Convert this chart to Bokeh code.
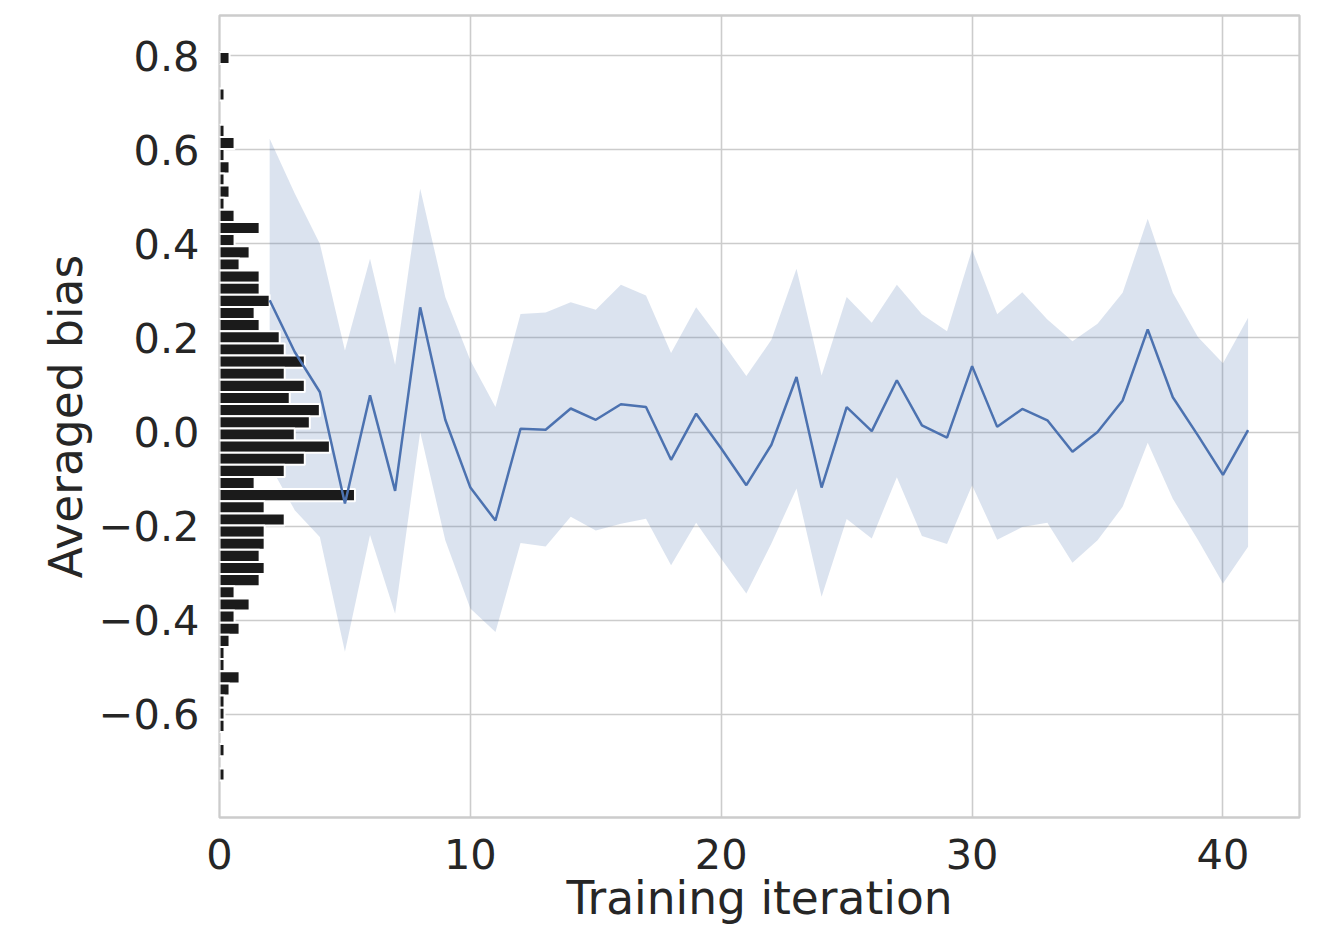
import numpy as np
from bokeh.plotting import figure
from bokeh.models import ColumnDataSource, Range1d, FixedTicker, CustomJSTickFormatter
from bokeh.embed import file_html
from bokeh.resources import INLINE

# Mean bias per training iteration with its spread band
iterations = list(range(2, 42))
mean_bias = [0.280, 0.170, 0.085, -0.152, 0.078, -0.125, 0.265, 0.026, -0.118, -0.188,
             0.007, 0.005, 0.050, 0.026, 0.059, 0.053, -0.059, 0.039, -0.035, -0.113,
             -0.027, 0.117, -0.118, 0.053, 0.002, 0.110, 0.014, -0.012, 0.140, 0.011,
             0.049, 0.025, -0.042, 0.000, 0.067, 0.218, 0.074, -0.007, -0.091, 0.004]
band_upper = [0.623, 0.507, 0.400, 0.173, 0.368, 0.143, 0.517, 0.287, 0.152, 0.053,
              0.251, 0.254, 0.276, 0.260, 0.313, 0.290, 0.168, 0.265, 0.194, 0.119,
              0.196, 0.347, 0.120, 0.287, 0.232, 0.313, 0.250, 0.214, 0.388, 0.250,
              0.297, 0.239, 0.193, 0.230, 0.296, 0.453, 0.296, 0.202, 0.146, 0.243]
band_lower = [-0.070, -0.166, -0.223, -0.467, -0.219, -0.386, 0.000, -0.230, -0.375, -0.425,
              -0.236, -0.243, -0.180, -0.209, -0.195, -0.184, -0.283, -0.193, -0.269, -0.343,
              -0.237, -0.120, -0.350, -0.185, -0.226, -0.096, -0.221, -0.238, -0.113, -0.229,
              -0.202, -0.193, -0.278, -0.230, -0.159, -0.023, -0.142, -0.229, -0.322, -0.244]

# Histogram of bias values (60 bins, top to bottom), bar lengths along x
hist_range = (-0.7405, 0.8075)
hist_length = [0.4, 0, 0, 0.2, 0, 0, 0.2, 0.6, 0.2, 0.4,
               0.2, 0.4, 0.2, 0.6, 1.6, 0.6, 1.2, 0.8, 1.6, 1.6,
               2.0, 1.4, 1.6, 2.4, 2.6, 3.4, 2.6, 3.4, 2.8, 4.0,
               3.6, 3.0, 4.4, 3.4, 2.6, 1.4, 5.4, 1.8, 2.6, 1.8,
               1.8, 1.6, 1.8, 1.6, 0.6, 1.2, 0.6, 0.8, 0.4, 0.2,
               0.2, 0.8, 0.4, 0.2, 0.2, 0.2, 0, 0.2, 0, 0.2]

x_ticks = [0, 10, 20, 30, 40]
y_ticks = [-0.6, -0.4, -0.2, 0.0, 0.2, 0.4, 0.6, 0.8]
x_title = "Training iteration"
y_title = "Averaged bias"

edges = np.linspace(hist_range[1], hist_range[0], len(hist_length) + 1)
centers = (edges[:-1] + edges[1:]) / 2
bin_h = abs(edges[1] - edges[0])
lengths = np.array(hist_length)
keep = lengths > 0
hist_src = ColumnDataSource(dict(y=centers[keep], right=lengths[keep]))

line_src = ColumnDataSource(dict(x=iterations, y=mean_bias, lo=band_lower, hi=band_upper))

FONT = "DejaVu Sans"
TEXT = "#262626"
GRID = "#cccccc"
BLUE = "#4c72b0"

p = figure(width=1318, height=928,
           x_range=Range1d(0, 43.05), y_range=Range1d(-0.819, 0.885),
           output_backend="svg", toolbar_location=None,
           min_border_left=219, min_border_right=19,
           min_border_top=15, min_border_bottom=111)

p.background_fill_color = "white"
p.border_fill_color = "white"
p.outline_line_color = GRID
p.outline_line_width = 2.3

p.varea(x="x", y1="lo", y2="hi", source=line_src, fill_color=BLUE, fill_alpha=0.2)
p.hbar(y="y", left=0, right="right", height=bin_h, source=hist_src,
       fill_color="#1b1b1b", line_color="white", line_width=2)
p.line(x="x", y="y", source=line_src, line_color=BLUE, line_width=2.5)

for grid in (p.xgrid, p.ygrid):
    grid.grid_line_color = GRID
    grid.grid_line_width = 1.6
p.xgrid.ticker = FixedTicker(ticks=x_ticks)
p.ygrid.ticker = FixedTicker(ticks=y_ticks)

p.xaxis.ticker = FixedTicker(ticks=x_ticks)
p.yaxis.ticker = FixedTicker(ticks=y_ticks)
p.yaxis.formatter = CustomJSTickFormatter(
    code="return (tick < -1e-9 ? '−' : '') + Math.abs(tick).toFixed(1);")
p.xaxis.formatter = CustomJSTickFormatter(code="return tick.toFixed(0);")

p.xaxis.axis_label = x_title
p.yaxis.axis_label = y_title

for ax in (p.xaxis, p.yaxis):
    ax.axis_line_color = None
    ax.major_tick_line_color = None
    ax.minor_tick_line_color = None
    ax.major_tick_out = 0
    ax.major_tick_in = 0
    ax.minor_tick_out = 0
    ax.minor_tick_in = 0
    ax.major_label_text_font = FONT
    ax.major_label_text_font_size = "41.5px"
    ax.major_label_text_color = TEXT
    ax.axis_label_text_font = FONT
    ax.axis_label_text_font_size = "45.5px"
    ax.axis_label_text_font_style = "normal"
    ax.axis_label_text_color = TEXT

p.yaxis.major_label_standoff = 20
p.xaxis.major_label_standoff = 21
p.yaxis.axis_label_standoff = 3
p.xaxis.axis_label_standoff = 0

open("out.html", "w").write(file_html(p, INLINE))
